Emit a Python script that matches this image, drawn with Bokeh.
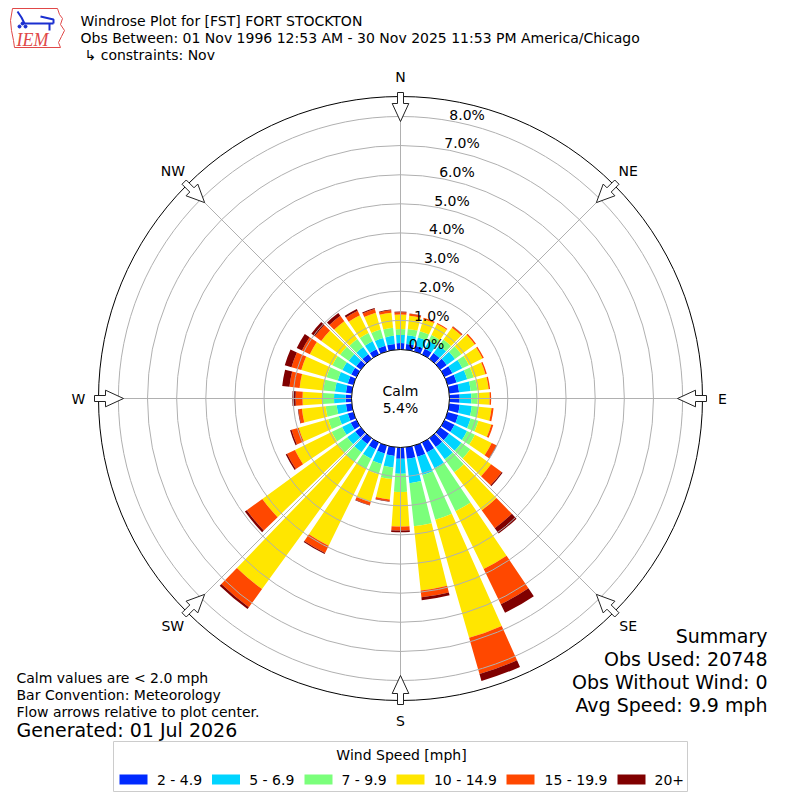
import math
import numpy as np
from bokeh.plotting import figure
from bokeh.models import Range1d, ColumnDataSource
from bokeh.core.properties import value
from bokeh.embed import file_html
from bokeh.resources import INLINE

# ---------------- data ----------------
directions = list(range(0, 360, 10))  # bearing (deg, "from" direction)
speed_bins = ["2 - 4.9", "5 - 6.9", "7 - 9.9", "10 - 14.9", "15 - 19.9", "20+"]
pct_2_49 = [.22, .20, .20, .22, .25, .28, .30, .32, .34, .35, .36, .38, .38, .38, .38, .38, .40, .40,
            .39, .30, .28, .26, .25, .24, .22, .20, .20, .20, .20, .20, .20, .20, .20, .20, .20, .20]
pct_5_69 = [.28, .30, .30, .30, .32, .35, .38, .38, .40, .40, .42, .44, .48, .52, .52, .60, .65, .84,
            .51, .40, .38, .36, .35, .34, .33, .32, .32, .40, .38, .36, .34, .32, .30, .30, .28, .28]
pct_7_99 = [.20, .22, .22, .22, .25, .27, .25, .23, .23, .22, .24, .28, .30, .38, .55, 1.64, 1.60, 1.49,
            .63, .40, .36, .38, .40, .40, .40, .38, .38, .40, .40, .40, .38, .36, .34, .32, .30, .28]
pct_10_149 = [.50, .45, .43, .42, .50, .57, .52, .42, .39, .41, .44, .46, .64, .88, 1.61, 2.21, 4.21, 2.21,
              1.18, .70, 1.00, 2.94, 5.40, 3.20, 1.40, 1.05, .82, .68, .82, .90, .86, .80, .76, .68, .60, .52]
pct_15_199 = [.08, .07, .05, .04, .05, .05, .05, .05, .05, .05, .07, .07, .18, .45, .76, 1.34, 1.29, .24,
              .14, .06, .10, .28, .77, .66, .30, .26, .12, .24, .35, .35, .30, .27, .23, .17, .13, .08]
pct_20p = [.02, .01, 0, 0, .01, 0, 0, 0, 0, 0, 0, 0, .02, .04, .23, .33, .25, .10,
           .06, .02, .02, .04, .08, .08, .05, .05, .02, .11, .25, .24, .20, .15, .12, .07, .04, .03]
series = [pct_2_49, pct_5_69, pct_7_99, pct_10_149, pct_15_199, pct_20p]
colors = ["#002aff", "#00d4ff", "#7bff7b", "#ffe600", "#ff4800", "#800000"]

calm_pct = 5.4
ring_ticks = [0, 1, 2, 3, 4, 5, 6, 7, 8]
compass_labels = ["N", "NE", "E", "SE", "S", "SW", "W", "NW"]
compass_bearings = [0, 45, 90, 135, 180, 225, 270, 315]

title_lines = ["Windrose Plot for [FST] FORT STOCKTON",
               "Obs Between: 01 Nov 1996 12:53 AM - 30 Nov 2025 11:53 PM America/Chicago",
               "\u21b3 constraints: Nov"]
note_lines = ["Calm values are < 2.0 mph", "Bar Convention: Meteorology",
              "Flow arrows relative to plot center."]
generated = "Generated: 01 Jul 2026"
summary_lines = ["Summary", "Obs Used: 20748", "Obs Without Wind: 0", "Avg Speed: 9.9 mph"]
legend_title = "Wind Speed [mph]"

# ---------------- geometry ----------------
S = 29.14          # pixels per percent
CX, CY = 400, 398  # plot center (px)
HOLE = 49 / S      # calm circle radius in percent units
R_OUT = 302 / S
FONT = value("DejaVu Sans")


def X(px):
    return (px - CX) / S


def Y(py):
    return (CY - py) / S


p = figure(width=800, height=800, x_range=Range1d(X(0), X(800)), y_range=Range1d(Y(800), Y(0)),
           output_backend="svg", toolbar_location=None, min_border=0,
           x_axis_location=None, y_axis_location=None)
p.grid.visible = False
p.outline_line_color = None
p.background_fill_color = "white"
p.border_fill_color = "white"

# ---------------- bars ----------------
W = 8.0
d = np.array(directions, dtype=float)
cum = np.zeros(len(directions))
for vals, color, lab in zip(series, colors, speed_bins):
    inner = HOLE + cum
    cum = cum + np.array(vals, dtype=float)
    outer = HOLE + cum
    src = ColumnDataSource(dict(
        x=np.zeros(len(d)), y=np.zeros(len(d)), ir=inner, orr=outer,
        sa=np.radians(90 - d - W / 2), ea=np.radians(90 - d + W / 2)))
    p.annular_wedge(x="x", y="y", inner_radius="ir", outer_radius="orr", start_angle="sa",
                    end_angle="ea", direction="anticlock", fill_color=color, line_color=None,
                    source=src)

# ---------------- grid ----------------
for k in ring_ticks[1:]:
    p.circle(x=0, y=0, radius=HOLE + k, fill_color=None, line_color="#b0b0b0", line_width=1)
b = np.radians(np.array(compass_bearings, dtype=float))
p.segment(x0=np.zeros(8), y0=np.zeros(8), x1=R_OUT * np.sin(b), y1=R_OUT * np.cos(b),
          line_color="#b0b0b0", line_width=1)
p.circle(x=0, y=0, radius=R_OUT, fill_color=None, line_color="black", line_width=1)
p.circle(x=0, y=0, radius=HOLE, fill_color="white", line_color="black", line_width=1)

# ---------------- arrows ----------------
arrow_local = [(306, -3), (295, -3), (295, -8.3), (277, 0), (295, 8.3), (295, 3), (306, 3)]
axs, ays = [], []
for bb in compass_bearings:
    br = math.radians(bb)
    ux, uy = math.sin(br), math.cos(br)
    vx, vy = math.cos(br), -math.sin(br)
    axs.append([(r * ux + t * vx) / S for r, t in arrow_local])
    ays.append([(r * uy + t * vy) / S for r, t in arrow_local])
p.patches(xs=axs, ys=ays, fill_color="white", line_color="#222222", line_width=1)

# compass labels
cl_r = 322 / S
p.text(x=[cl_r * math.sin(math.radians(bb)) for bb in compass_bearings],
       y=[cl_r * math.cos(math.radians(bb)) for bb in compass_bearings],
       text=compass_labels, text_font=FONT, text_font_size="14px",
       text_align="center", text_baseline="middle", text_color="black")

# radial labels
rx, ry, rt = [], [], []
for k in ring_ticks:
    rpx = 49 + S * k
    rx.append(X(CX + rpx * math.sin(math.radians(10)) + 17.6))
    ry.append(Y(CY - rpx * math.cos(math.radians(10)) - 6))
    rt.append(f"{k:.1f}%")
p.text(x=rx, y=ry, text=rt, text_font=FONT, text_font_size="14px",
       text_align="center", text_baseline="middle", text_color="black")

# calm text
p.text(x=[0, 0], y=[Y(390), Y(407)], text=["Calm", f"{calm_pct:.1f}%"], text_font=FONT,
       text_font_size="14px", text_align="center", text_baseline="middle", text_color="black")

# ---------------- header ----------------
p.text(x=[X(80), X(80), X(84)], y=[Y(20), Y(37), Y(54)], text=title_lines, text_font=FONT,
       text_font_size="14px", text_align="left", text_baseline="middle", text_color="black")

# logo (approximate)
iowa_x = [12, 57, 59, 62, 60, 64, 61, 58, 60, 14, 13, 11, 10, 12]
iowa_y = [8, 8, 14, 18, 24, 30, 36, 42, 47, 47, 40, 30, 20, 8]
p.line(x=[X(v) for v in iowa_x], y=[Y(v) for v in iowa_y], line_color="#e04848", line_width=1)
p.text(x=[X(16)], y=[Y(39)], text=["IEM"], text_font=value("Liberation Serif"),
       text_font_style="italic", text_font_size="18px", text_color="#e04848",
       text_align="left", text_baseline="middle")
p.multi_line(xs=[[X(22), X(53)], [X(17), X(21), X(24)], [X(40), X(53), X(53)], [X(49), X(49)]],
             ys=[[Y(23), Y(23)], [Y(11), Y(17), Y(23)], [Y(16), Y(19), Y(23)], [Y(23), Y(30)]],
             line_color="#1a2fd0", line_width=2)
p.scatter(x=[X(22), X(19), X(25)], y=[Y(23), Y(26), Y(26)], size=3, color="#1a2fd0")

# ---------------- footer text ----------------
p.text(x=[X(16)] * 3, y=[Y(677), Y(694), Y(711)], text=note_lines, text_font=FONT,
       text_font_size="14px", text_align="left", text_baseline="middle", text_color="black")
p.text(x=[X(16)], y=[Y(729)], text=[generated], text_font=FONT, text_font_size="19px",
       text_align="left", text_baseline="middle", text_color="black")
p.text(x=[X(767)] * 4, y=[Y(635), Y(658), Y(681), Y(704)], text=summary_lines, text_font=FONT,
       text_font_size="19px", text_align="right", text_baseline="middle", text_color="black")

# ---------------- legend ----------------
p.quad(left=[X(113)], right=[X(687)], top=[Y(741)], bottom=[Y(791)], fill_color="white",
       line_color="#cccccc", line_width=1)
p.text(x=[X(401)], y=[Y(754)], text=[legend_title], text_font=FONT, text_font_size="14px",
       text_align="center", text_baseline="middle", text_color="black")
patch_x = [119, 211.5, 304, 396, 506, 617]
label_x = [156.5, 248.7, 341, 433.4, 544, 654]
p.quad(left=[X(v) for v in patch_x], right=[X(v + 28) for v in patch_x],
       top=[Y(774)] * 6, bottom=[Y(784)] * 6, fill_color=colors, line_color=None)
p.text(x=[X(v) for v in label_x], y=[Y(779)] * 6, text=speed_bins, text_font=FONT,
       text_font_size="14px", text_align="left", text_baseline="middle", text_color="black")

open("out.html", "w").write(file_html(p, INLINE))
